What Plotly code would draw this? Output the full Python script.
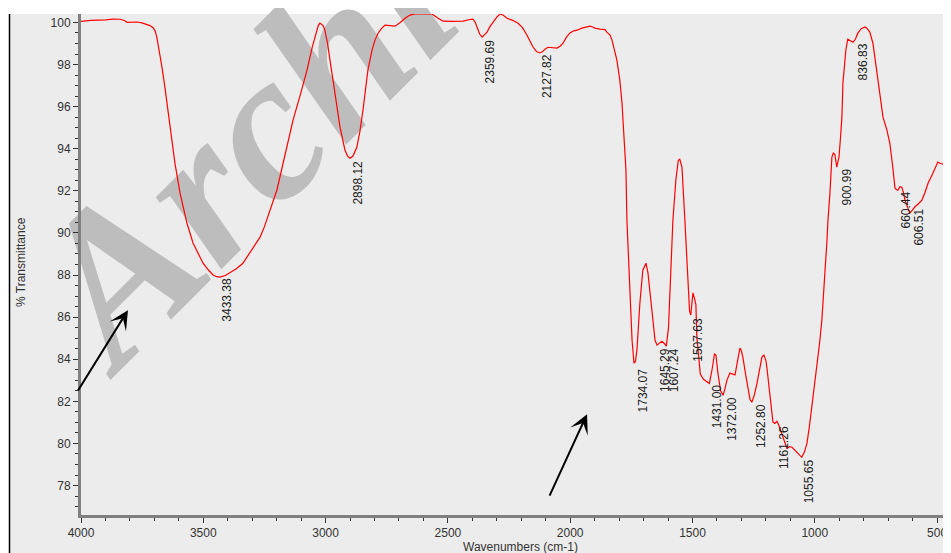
import math
import plotly.graph_objects as go

# ---------------- data ----------------
wavenumber = [4000, 3960, 3900, 3869, 3840, 3820, 3812, 3790, 3770, 3751, 3735, 3718, 3705, 3697, 3690,
              3685, 3677, 3669, 3657, 3644, 3628, 3616, 3595, 3567, 3542, 3520, 3501, 3480, 3460, 3445,
              3432, 3410, 3391, 3365, 3338, 3300, 3268, 3250, 3230, 3199, 3170, 3133, 3100, 3076, 3055,
              3043, 3030, 3023, 3010, 3003, 2992, 2982, 2962, 2941, 2921, 2910, 2900, 2888, 2872, 2860,
              2847, 2827, 2810, 2798, 2785, 2770, 2757, 2740, 2716, 2695, 2675, 2655, 2635, 2600, 2565,
              2540, 2520, 2480, 2438, 2410, 2397, 2388, 2381, 2370, 2360, 2350, 2340, 2328, 2316, 2300,
              2287, 2275, 2258, 2235, 2213, 2195, 2177, 2165, 2152, 2138, 2124, 2112, 2103, 2091, 2070,
              2054, 2040, 2030, 2015, 2001, 1985, 1972, 1952, 1935, 1919, 1908, 1899, 1878, 1858, 1850,
              1837, 1829, 1809, 1797, 1788, 1780, 1772, 1768, 1760, 1752, 1747, 1739, 1733, 1727, 1715,
              1703, 1690, 1682, 1666, 1653, 1645, 1635, 1625, 1615, 1607, 1598, 1592, 1580, 1568, 1558,
              1552, 1543, 1531, 1519, 1512, 1507, 1502, 1498, 1492, 1486, 1482, 1475, 1468, 1455, 1441,
              1431, 1420, 1410, 1404, 1396, 1385, 1375, 1367, 1359, 1347, 1336, 1326, 1316, 1306, 1300,
              1294, 1283, 1273, 1265, 1257, 1247, 1236, 1226, 1216, 1208, 1200, 1196, 1184, 1171, 1163,
              1155, 1148, 1140, 1134, 1124, 1114, 1103, 1093, 1083, 1073, 1063, 1053, 1042, 1032, 1022,
              1012, 1001, 991, 981, 971, 964, 958, 950, 946, 942, 938, 930, 924, 918, 912,
              910, 905, 901, 895, 889, 885, 879, 873, 865, 855, 844, 834, 824, 810, 795,
              785, 775, 762, 754, 746, 734, 721, 705, 693, 681, 672, 665, 660, 652, 644,
              637, 631, 620, 611, 600, 591, 575, 562, 550, 537, 517, 497, 486, 476, 468,
              460, 447, 440]
transmittance = [100.05, 100.1, 100.12, 100.16, 100.15, 100.08, 100.0, 100.0, 100.02, 99.98, 99.93, 99.85, 99.75, 99.6, 99.3,
                 99.0, 98.5, 97.88, 96.93, 95.84, 94.56, 93.32, 91.89, 90.47, 89.52, 89.0, 88.56, 88.25, 88.0, 87.92,
                 87.9, 87.98, 88.1, 88.3, 88.56, 89.2, 89.8, 90.3, 91.0, 92.04, 93.5, 95.36, 96.7, 97.73, 98.8,
                 99.3, 99.85, 99.97, 99.85, 99.63, 99.0, 98.21, 96.64, 95.03, 93.94, 93.65, 93.55, 93.65, 94.08, 94.8,
                 95.84, 97.73, 98.7, 99.16, 99.5, 99.73, 99.87, 99.85, 99.82, 100.0, 100.2, 100.35, 100.4, 100.42, 100.4,
                 100.2, 100.06, 100.05, 100.06, 100.14, 100.16, 100.0, 99.78, 99.45, 99.3, 99.4, 99.54, 99.8, 100.01, 100.25,
                 100.4, 100.35, 100.2, 100.1, 99.96, 99.75, 99.4, 99.1, 98.83, 98.62, 98.55, 98.62, 98.73, 98.82, 98.8,
                 98.78, 98.88, 99.0, 99.3, 99.5, 99.6, 99.63, 99.73, 99.78, 99.82, 99.78, 99.73, 99.68, 99.66, 99.54,
                 99.4, 99.16, 98.21, 97.26, 96.16, 94.56, 92.99, 90.6, 88.23, 86.33, 84.9, 83.81, 83.9, 84.43, 86.67,
                 88.23, 88.56, 88.1, 86.33, 84.9, 84.67, 84.78, 84.85, 84.75, 84.62, 85.5, 87.42, 90.6, 92.5, 93.45,
                 93.5, 93.13, 90.6, 87.76, 86.3, 86.1, 86.8, 87.15, 86.9, 86.6, 85.05, 84.0, 83.3, 83.05, 82.95,
                 82.85, 83.5, 84.25, 84.2, 83.34, 82.5, 82.29, 82.6, 83.01, 83.34, 83.3, 83.25, 83.9, 84.53, 84.4,
                 84.1, 83.3, 82.53, 82.1, 81.96, 82.3, 82.87, 83.5, 84.1, 84.2, 83.95, 83.63, 82.2, 81.01, 80.95,
                 81.05, 80.9, 80.6, 80.48, 80.1, 79.77, 79.85, 79.82, 79.7, 79.58, 79.45, 79.34, 79.6, 80.0, 80.8,
                 81.73, 82.7, 83.63, 84.7, 85.85, 87.0, 88.1, 89.66, 90.6, 91.2, 91.89, 93.6, 93.8, 93.74, 93.3,
                 93.13, 93.4, 93.6, 94.5, 95.5, 97.1, 98.0, 98.68, 99.2, 99.15, 99.06, 99.2, 99.49, 99.7, 99.78,
                 99.7, 99.54, 99.0, 98.3, 97.58, 96.64, 95.5, 94.88, 94.26, 93.13, 92.12, 92.05, 92.03, 92.2, 92.17,
                 91.9, 91.56, 91.2, 90.94, 91.1, 91.23, 91.4, 91.56, 91.9, 92.36, 92.83, 93.37, 93.3, 93.27, 93.3,
                 93.46, 93.93, 94.1]

peak_labels = [3433.38, 2898.12, 2359.69, 2127.82, 1734.07, 1645.29, 1607.24, 1507.63, 1431.00,
               1372.00, 1252.80, 1161.26, 1055.65, 900.99, 836.83, 660.44, 606.51, 470.91]
peak_label_y = [87.90, 93.46, 99.25, 98.54, 83.62, 84.58, 84.58, 86.0, 82.87,
                82.25, 81.92, 80.87, 79.30, 93.13, 99.06, 92.03, 91.18, 93.3]

x_ticks = [4000, 3500, 3000, 2500, 2000, 1500, 1000, 500]
y_ticks = [78, 80, 82, 84, 86, 88, 90, 92, 94, 96, 98, 100]

arrow_tip_x = [3808, 1931]
arrow_tip_y = [86.33, 81.39]
arrow_tail_x = [4016, 2087]
arrow_tail_y = [82.44, 77.45]

watermark_text = "Archive of SID"

# ---------------- figure ----------------
# the page body has an 8px margin, so the figure is laid out 8px smaller
PAGE_OFF = 8
W_FIG, H_FIG = 951 - PAGE_OFF, 553 - PAGE_OFF
ML, MR, MT, MB = 81 - PAGE_OFF, 0, 14 - PAGE_OFF, 553 - 515
PW, PH = W_FIG - ML - MR, H_FIG - MT - MB


def px_to_paper_x(px):          # px measured on the page
    return (px - PAGE_OFF - ML) / PW


def py_to_paper_y(py):
    return (H_FIG - MB - (py - PAGE_OFF)) / PH


fig = go.Figure()
fig.add_trace(go.Scatter(x=wavenumber, y=transmittance, mode="lines",
                         line=dict(color="#ff0000", width=1.2), showlegend=False,
                         hoverinfo="skip"))

shapes = []
# grey panel background (drawn below everything)
shapes.append(dict(type="rect", xref="paper", yref="paper", layer="below",
                   x0=px_to_paper_x(9), x1=1.0, y0=py_to_paper_y(560), y1=1.0,
                   fillcolor="#ececec", line=dict(width=0)))
# left black border of panel
shapes.append(dict(type="line", xref="paper", yref="paper", layer="above",
                   x0=px_to_paper_x(9.5), x1=px_to_paper_x(9.5), y0=py_to_paper_y(560), y1=1.0,
                   line=dict(color="#000000", width=1.5)))

# watermark (label of an invisible line shape, below the trace)
S = 212
theta = math.radians(45)
u = (math.cos(theta), -math.sin(theta))
v = (-math.sin(theta), -math.cos(theta))
P0 = (102, 356)
Wtxt = 6.222 * S
cx = P0[0] + (Wtxt / 2) * u[0] + 0.337 * S * v[0]
cy = P0[1] + (Wtxt / 2) * u[1] + 0.337 * S * v[1]
L = 50
shapes.append(dict(type="line", xref="paper", yref="paper", layer="below",
                   x0=px_to_paper_x(cx - L * u[0]), y0=py_to_paper_y(cy - L * u[1]),
                   x1=px_to_paper_x(cx + L * u[0]), y1=py_to_paper_y(cy + L * u[1]),
                   line=dict(width=0, color="rgba(0,0,0,0)"),
                   label=dict(text=watermark_text, textposition="middle", textangle=-45,
                              xanchor="center", yanchor="middle", padding=0,
                              font=dict(family="Liberation Serif", size=S, color="#bdbdbd",
                                        weight="bold", style="italic"))))

annotations = []
for wn, yy in zip(peak_labels, peak_label_y):
    annotations.append(dict(x=wn, y=yy, xref="x", yref="y", text=f"{wn:.2f}",
                            textangle=-90, xanchor="left", yanchor="top", showarrow=False,
                            borderpad=0, font=dict(family="Liberation Sans", size=12, color="#222222")))

for tx, ty, ax, ay in zip(arrow_tip_x, arrow_tip_y, arrow_tail_x, arrow_tail_y):
    annotations.append(dict(x=tx, y=ty, ax=ax, ay=ay, xref="x", yref="y", axref="x", ayref="y",
                            text="", showarrow=True, arrowhead=3, arrowsize=1.6, arrowwidth=2,
                            arrowcolor="#000000", standoff=0, startstandoff=0))

annotations.append(dict(x=px_to_paper_x(520), y=py_to_paper_y(547), xref="paper", yref="paper",
                        text="Wavenumbers (cm-1)", showarrow=False, xanchor="center", yanchor="middle",
                        font=dict(family="Liberation Sans", size=12, color="#333333")))
annotations.append(dict(x=px_to_paper_x(21), y=py_to_paper_y(262), xref="paper", yref="paper",
                        text="% Transmittance", showarrow=False, textangle=-90,
                        xanchor="center", yanchor="middle",
                        font=dict(family="Liberation Sans", size=12, color="#333333")))

fig.update_layout(
    width=W_FIG, height=H_FIG,
    margin=dict(l=ML, r=MR, t=MT, b=MB, pad=0),
    paper_bgcolor="#ffffff", plot_bgcolor="rgba(0,0,0,0)",
    shapes=shapes, annotations=annotations, showlegend=False,
    xaxis=dict(range=[4000, 443], autorange=False, tickvals=x_ticks,
               ticktext=[str(t) for t in x_ticks], showgrid=False, zeroline=False,
               showline=True, linecolor="#808080", linewidth=3,
               ticks="outside", ticklen=5, tickwidth=1, tickcolor="#333333",
               minor=dict(dtick=100, tick0=0, ticks="outside", ticklen=3, tickcolor="#333333",
                          showgrid=False),
               tickfont=dict(family="Liberation Sans", size=12, color="#333333")),
    yaxis=dict(range=[76.6, 100.4], autorange=False, tickvals=y_ticks,
               ticktext=[str(t) for t in y_ticks], showgrid=False, zeroline=False,
               showline=True, linecolor="#808080", linewidth=3,
               ticks="outside", ticklen=5, tickwidth=1, tickcolor="#333333",
               minor=dict(dtick=0.5, tick0=0, ticks="outside", ticklen=3, tickcolor="#333333",
                          showgrid=False),
               tickfont=dict(family="Liberation Sans", size=12, color="#333333")),
)

fig.write_html("out.html")
